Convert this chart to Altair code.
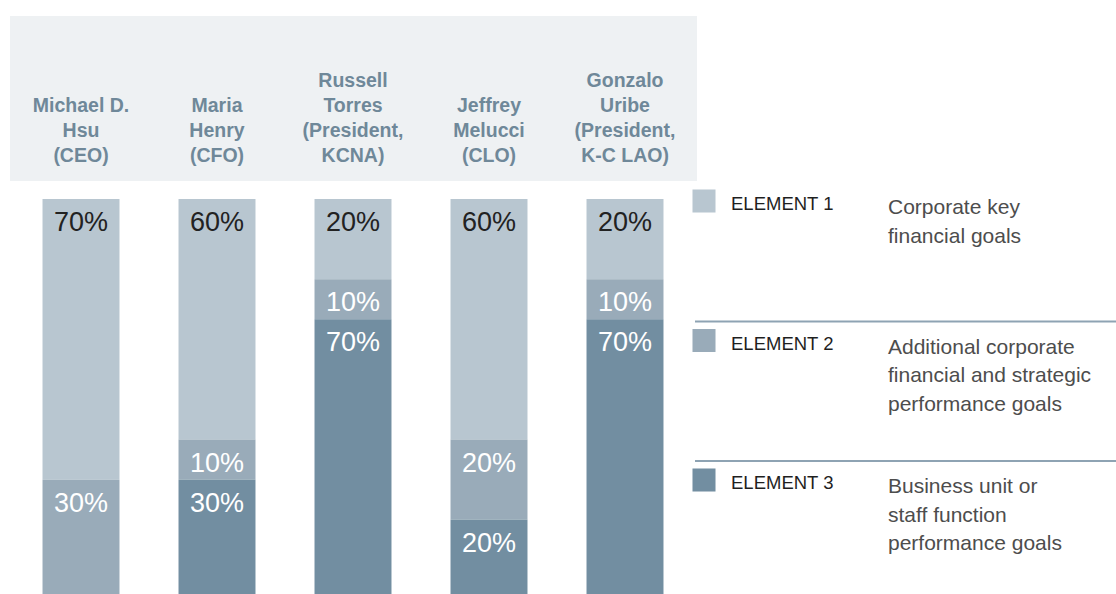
import altair as alt
import pandas as pd

# ---- data ----
people = ["Michael D. Hsu (CEO)", "Maria Henry (CFO)", "Russell Torres (President, KCNA)",
          "Jeffrey Melucci (CLO)", "Gonzalo Uribe (President, K-C LAO)"]
header_labels = [" \nMichael D.\nHsu\n(CEO)", " \nMaria\nHenry\n(CFO)", "Russell\nTorres\n(President,\nKCNA)",
                 " \nJeffrey\nMelucci\n(CLO)", "Gonzalo\nUribe\n(President,\nK-C LAO)"]
elements = ["ELEMENT 1", "ELEMENT 2", "ELEMENT 3"]
element1 = [70, 60, 20, 60, 20]
element2 = [30, 10, 10, 20, 10]
element3 = [0, 30, 70, 20, 70]
descriptions = ["Corporate key\nfinancial goals",
                "Additional corporate\nfinancial and strategic\nperformance goals",
                "Business unit or\nstaff function\nperformance goals"]
colors = ["#b8c6d0", "#99abb9", "#728ea1"]
label_colors = ["#222222", "#ffffff", "#ffffff"]

# ---- build tables ----
rows = []
for i, p in enumerate(people):
    start = 0
    for e, vals in enumerate([element1, element2, element3]):
        v = vals[i]
        if v > 0:
            rows.append({"person": p, "element": elements[e], "start": start, "end": start + v,
                         "label": f"{v}%", "color": colors[e], "lcolor": label_colors[e]})
        start += v
seg = pd.DataFrame(rows)
hdr = pd.DataFrame({"person": people, "header": header_labels})
leg = pd.DataFrame({"element": elements, "desc": descriptions, "color": colors})
seps = leg.iloc[1:].copy()

FONT = "Liberation Sans, Arial, Helvetica, sans-serif"

xscale = alt.Scale(domain=people, range=[13, 693], paddingInner=0.434, paddingOuter=0.217)
yscale = alt.Scale(domain=[0, 100], range=[199, 600])
X = alt.X("person:N", scale=xscale, axis=None, sort=people)

band = alt.Chart(pd.DataFrame({"a": [0]})).mark_rect(color="#eef1f3").encode(
    x=alt.value(10), x2=alt.value(697), y=alt.value(16), y2=alt.value(181))

header = alt.Chart(hdr).mark_text(
    font=FONT, fontSize=19.5, fontWeight="bold", color="#6f8899", lineBreak="\n",
    lineHeight=25, baseline="alphabetic", align="center").encode(
    x=X, y=alt.value(87), text="header:N")

bars = alt.Chart(seg).mark_bar(clip=True).encode(
    x=X,
    y=alt.Y("start:Q", scale=yscale, axis=None),
    y2="end:Q",
    color=alt.Color("color:N", scale=None))

labels = alt.Chart(seg).mark_text(font=FONT, fontSize=27, baseline="alphabetic",
                                  align="center", dy=32).encode(
    x=X,
    y=alt.Y("start:Q", scale=yscale, axis=None),
    text="label:N",
    color=alt.Color("lcolor:N", scale=None))

lscale = alt.Scale(type="point", domain=elements, range=[201, 480], padding=0)
LY = alt.Y("element:N", scale=lscale, axis=None)

swatch = alt.Chart(leg).mark_square(size=530, opacity=1, filled=True).encode(
    x=alt.value(704), y=LY, color=alt.Color("color:N", scale=None))
lname = alt.Chart(leg).mark_text(font=FONT, fontSize=18.5, color="#1f1f1f", align="left",
                                 baseline="middle", dy=3).encode(
    x=alt.value(731), y=LY, text="element:N")
ldesc = alt.Chart(leg).mark_text(font=FONT, fontSize=21, color="#4d4d4d", align="left",
                                 baseline="alphabetic", dy=13, lineBreak="\n", lineHeight=28.5).encode(
    x=alt.value(888), y=LY, text="desc:N")
rules = alt.Chart(seps).mark_rule(color="#8ea3b3", strokeWidth=2, yOffset=-19).encode(
    x=alt.value(695), x2=alt.value(1116), y=LY)

legend = alt.layer(swatch, lname, ldesc, rules)
main = alt.layer(band, header, bars, labels)

chart = alt.layer(main, legend).resolve_scale(y="independent").properties(
    width=1116, height=594, padding=0,
    autosize=alt.AutoSizeParams(type="none"),
    background="white",
).configure_view(stroke=None)

chart.save("out.html", embed_options={"renderer": "svg", "actions": False})
